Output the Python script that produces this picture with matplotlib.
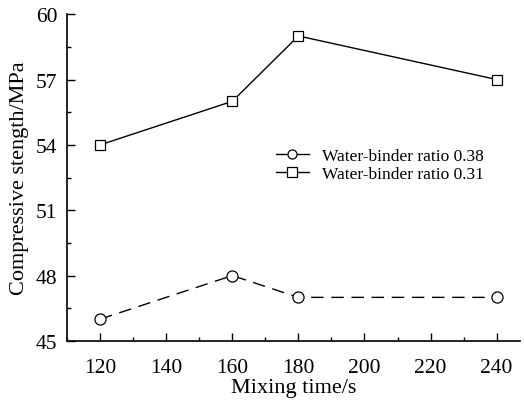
import matplotlib
matplotlib.use("Agg")
import matplotlib.pyplot as plt
from matplotlib.ticker import MultipleLocator

plt.rcParams["font.family"] = ["Liberation Serif", "DejaVu Serif"]

mix_time = [120, 160, 180, 240]
wb_038 = [46, 48, 47, 47]
wb_031 = [54, 56, 59, 57]
x_ticks = [120, 140, 160, 180, 200, 220, 240]
y_ticks = [45, 48, 51, 54, 57, 60]

fig = plt.figure(figsize=(5.24, 4.10), dpi=100)
ax = fig.add_axes([0.128, 0.166, 0.864, 0.797])

ax.plot(mix_time, wb_038, color="black", linewidth=1, linestyle=(0, (9, 5.5)),
        marker="o", markersize=8, markerfacecolor="white", markeredgewidth=0.9,
        label="Water-binder ratio 0.38")
ax.plot(mix_time, wb_031, color="black", linewidth=1, linestyle="-",
        marker="s", markersize=6.5, markerfacecolor="white", markeredgewidth=0.9,
        label="Water-binder ratio 0.31")

ax.set_xlim(110, 247)
ax.set_ylim(45, 60)
ax.set_xticks(x_ticks)
ax.set_yticks(y_ticks)
ax.xaxis.set_minor_locator(MultipleLocator(10))
ax.yaxis.set_minor_locator(MultipleLocator(1.5))
ax.tick_params(which="both", direction="in", labelsize=15.5, width=1)
ax.tick_params(which="major", length=6)
ax.tick_params(which="minor", length=3)
ax.tick_params(axis="x", which="major", pad=12)
ax.tick_params(axis="y", which="major", pad=7)
ax.spines["top"].set_visible(False)
ax.spines["right"].set_visible(False)
ax.spines["left"].set_linewidth(1.2)
ax.spines["bottom"].set_linewidth(1.2)

ax.set_xlabel("Mixing time/s", fontsize=16, labelpad=1)
ax.set_ylabel("Compressive stength/MPa", fontsize=16, labelpad=5)

leg = ax.legend(loc="upper left", bbox_to_anchor=(260 / 524, 1 - 133 / 410),
                bbox_transform=fig.transFigure, frameon=False, fontsize=12.5,
                handlelength=1.9, handletextpad=0.8, labelspacing=0.1)
for h in leg.legend_handles:
    h.set_linestyle("-")
    h.set_markersize(6.5)

fig.savefig("out.png", dpi=100)
